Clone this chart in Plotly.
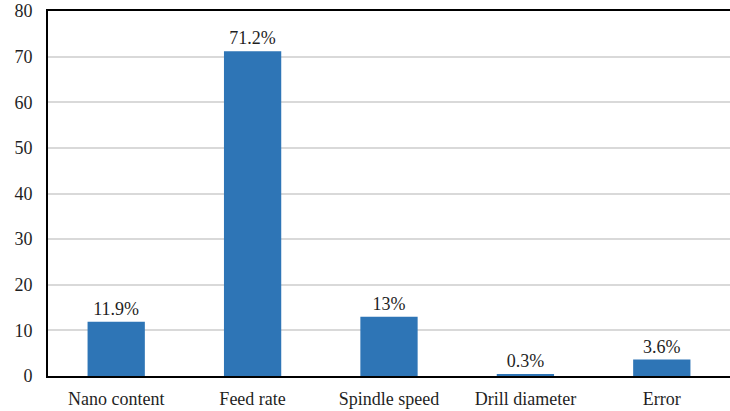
import plotly.graph_objects as go

factors = ["Nano content", "Feed rate", "Spindle speed", "Drill diameter", "Error"]
contribution = [11.9, 71.2, 13, 0.3, 3.6]
labels = ["11.9%", "71.2%", "13%", "0.3%", "3.6%"]
y_ticks = [0, 10, 20, 30, 40, 50, 60, 70, 80]

serif = "Liberation Serif"

fig = go.Figure(
    go.Bar(
        x=factors,
        y=contribution,
        text=labels,
        textposition="outside",
        cliponaxis=False,
        marker=dict(color="#2E75B6", line=dict(width=0)),
        width=0.42,
    )
)

fig.update_layout(
    width=730,
    height=411,
    margin=dict(l=48, r=0, t=11, b=35),
    paper_bgcolor="white",
    plot_bgcolor="white",
    showlegend=False,
    font=dict(family=serif, size=18, color="#1f1f1f"),
)

fig.update_xaxes(
    showline=True,
    linecolor="black",
    linewidth=2,
    mirror=True,
    ticks="",
    ticklabelstandoff=5,
)
fig.update_yaxes(
    range=[0, 80],
    tickvals=y_ticks,
    showline=True,
    linecolor="black",
    linewidth=2,
    showgrid=True,
    gridcolor="#D9D9D9",
    gridwidth=1.5,
    zeroline=False,
    ticks="",
    ticklabelstandoff=10,
)

fig.write_html("out.html")
